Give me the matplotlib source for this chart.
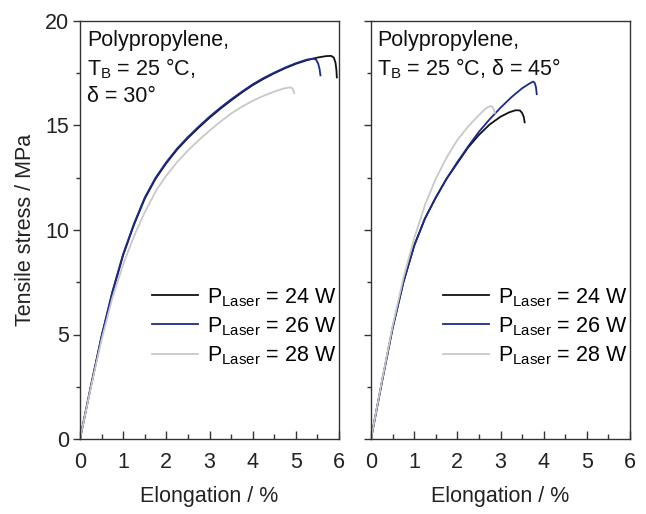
import matplotlib
matplotlib.use("Agg")
import matplotlib.pyplot as plt
from matplotlib.ticker import MultipleLocator

plt.rcParams['font.family'] = ['Liberation Sans', 'DejaVu Sans']
plt.rcParams['mathtext.fontset'] = 'custom'
plt.rcParams['mathtext.rm'] = 'Liberation Sans'
plt.rcParams['mathtext.it'] = 'Liberation Sans:italic'
plt.rcParams['mathtext.default'] = 'rm'

# ---- data ----
# delta = 30 deg
l_24_x = [0, 0.25, 0.5, 0.75, 1.0, 1.25, 1.5, 1.75, 2.0, 2.25, 2.5, 2.75, 3.0, 3.25, 3.5, 3.75,
          4.0, 4.25, 4.5, 4.75, 5.0, 5.25, 5.5, 5.7, 5.82, 5.88, 5.92, 5.94, 5.95]
l_24_y = [0, 2.5, 4.9, 7.0, 8.8, 10.25, 11.5, 12.45, 13.2, 13.85, 14.4, 14.9, 15.37, 15.8, 16.2, 16.58,
          16.93, 17.23, 17.5, 17.74, 17.95, 18.12, 18.25, 18.32, 18.33, 18.25, 18.0, 17.65, 17.3]
l_26_x = [0, 0.25, 0.5, 0.75, 1.0, 1.25, 1.5, 1.75, 2.0, 2.25, 2.5, 2.75, 3.0, 3.25, 3.5, 3.75,
          4.0, 4.25, 4.5, 4.75, 5.0, 5.25, 5.4, 5.47, 5.52, 5.55, 5.57]
l_26_y = [0, 2.52, 4.93, 7.05, 8.85, 10.3, 11.55, 12.5, 13.25, 13.9, 14.45, 14.95, 15.42, 15.85, 16.25, 16.62,
          16.97, 17.27, 17.53, 17.77, 17.98, 18.15, 18.2, 18.15, 17.95, 17.7, 17.4]
l_28_x = [0, 0.25, 0.5, 0.75, 1.0, 1.25, 1.5, 1.78, 2.0, 2.25, 2.5, 2.75, 3.0, 3.25, 3.5, 3.75,
          4.0, 4.25, 4.5, 4.72, 4.85, 4.91, 4.94, 4.96]
l_28_y = [0, 2.45, 4.75, 6.75, 8.35, 9.7, 10.85, 11.95, 12.6, 13.25, 13.8, 14.3, 14.75, 15.18, 15.57, 15.9,
          16.18, 16.42, 16.62, 16.77, 16.82, 16.8, 16.7, 16.55]

# delta = 45 deg
r_24_x = [0, 0.25, 0.5, 0.75, 1.0, 1.25, 1.5, 1.75, 2.0, 2.25, 2.5, 2.75, 3.0, 3.2, 3.35, 3.45, 3.5, 3.54, 3.56]
r_24_y = [0, 2.7, 5.3, 7.5, 9.25, 10.55, 11.55, 12.45, 13.2, 13.95, 14.55, 15.05, 15.42, 15.63, 15.73, 15.72, 15.6, 15.4, 15.15]
r_26_x = [0, 0.25, 0.5, 0.75, 1.0, 1.25, 1.5, 1.75, 2.0, 2.25, 2.5, 2.75, 3.0, 3.25, 3.5, 3.65, 3.75, 3.79, 3.82, 3.84]
r_26_y = [0, 2.7, 5.3, 7.5, 9.25, 10.55, 11.55, 12.45, 13.25, 14.0, 14.7, 15.3, 15.85, 16.35, 16.78, 16.98, 17.1, 17.05, 16.85, 16.5]
r_28_x = [0, 0.25, 0.5, 0.75, 1.0, 1.25, 1.5, 1.76, 2.0, 2.25, 2.5, 2.65, 2.75, 2.8, 2.84, 2.87]
r_28_y = [0, 2.75, 5.4, 7.7, 9.6, 11.2, 12.45, 13.5, 14.3, 14.95, 15.5, 15.8, 15.92, 15.92, 15.8, 15.6]

labels = [r'P$_{\mathrm{Laser}}$ = 24 W', r'P$_{\mathrm{Laser}}$ = 26 W', r'P$_{\mathrm{Laser}}$ = 28 W']
colors = ['#111111', '#1c2a8c', '#c8c8c8']
x_ticks = [0, 1, 2, 3, 4, 5, 6]
y_ticks = [0, 5, 10, 15, 20]
titles = ['Polypropylene,\nT$_{\\mathrm{B}}$ = 25 °C,\nδ = 30°',
          'Polypropylene,\nT$_{\\mathrm{B}}$ = 25 °C, δ = 45°']

FS = 15.5
fig = plt.figure(figsize=(6.46, 5.14), dpi=100)
ax1 = fig.add_axes([80/646, 1-439/514, 259/646, 418/514])
ax2 = fig.add_axes([371/646, 1-439/514, 259/646, 418/514])

series = [
    [(l_24_x, l_24_y), (l_26_x, l_26_y), (l_28_x, l_28_y)],
    [(r_24_x, r_24_y), (r_26_x, r_26_y), (r_28_x, r_28_y)],
]
spine_col = '#333333'
txt_col = '#222222'
for i, (ax, ser) in enumerate(zip([ax1, ax2], series)):
    for (xs, ys), c, lab in zip(ser, colors, labels):
        ax.plot(xs, ys, color=c, lw=1.3, label=lab, solid_joinstyle='round')
    ax.set_xlim(0, 6)
    ax.set_ylim(0, 20)
    ax.set_xticks(x_ticks)
    ax.set_yticks(y_ticks)
    ax.xaxis.set_minor_locator(MultipleLocator(0.5))
    ax.yaxis.set_minor_locator(MultipleLocator(2.5))
    ax.tick_params(axis='x', which='major', direction='in', length=6, width=1, colors=spine_col,
                   labelsize=FS, labelcolor=txt_col, pad=9)
    ax.tick_params(axis='x', which='minor', direction='in', length=3.5, width=1, colors=spine_col)
    ax.tick_params(axis='y', which='major', direction='out', length=5, width=1, colors=spine_col,
                   labelsize=FS, labelcolor=txt_col, pad=3)
    ax.tick_params(axis='y', which='minor', direction='out', length=3, width=1, colors=spine_col)
    for s in ax.spines.values():
        s.set_color(spine_col)
        s.set_linewidth(1.0)
    ax.set_xlabel('Elongation / %', fontsize=FS, color=txt_col, labelpad=10)
    ax.text(0.027 if i == 0 else 0.023, 0.978, titles[i], transform=ax.transAxes, va='top', ha='left',
            fontsize=FS, color='#111111', linespacing=1.3)
    ax.legend(loc='lower right', frameon=False, fontsize=FS, handlelength=2.15,
              handletextpad=0.4, labelspacing=0.3, borderaxespad=0.0, borderpad=0.0,
              bbox_to_anchor=(0.99, 0.173))

ax2.tick_params(axis='y', which='both', labelleft=False)
ax1.set_ylabel('Tensile stress / MPa', fontsize=FS, color=txt_col, labelpad=6)

fig.savefig('out.png', dpi=100)
